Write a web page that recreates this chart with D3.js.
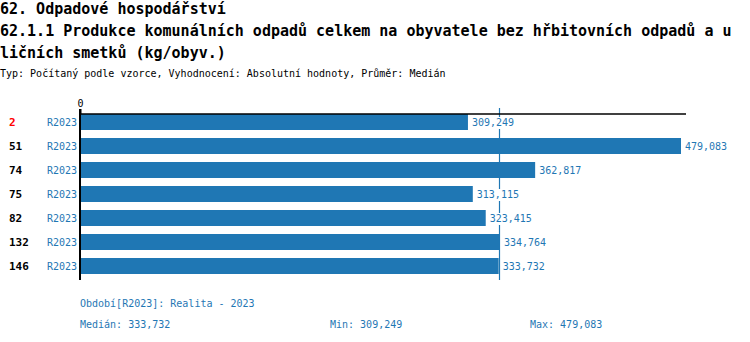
<!DOCTYPE html>
<html>
<head>
<meta charset="utf-8">
<script src="https://cdn.jsdelivr.net/npm/d3@7"></script>
<style>
  html, body { margin: 0; padding: 0; background: #fff; }
  svg { display: block; }
  text { font-family: "DejaVu Sans Mono", "Liberation Mono", monospace; }
</style>
</head>
<body>
<script>
// Municipal waste per inhabitant, 2023 (kg/inhabitant)
const rowIds   = ["2", "51", "74", "75", "82", "132", "146"];
const periods  = ["R2023", "R2023", "R2023", "R2023", "R2023", "R2023", "R2023"];
const values   = [309.249, 479.083, 362.817, 313.115, 323.415, 334.764, 333.732];
const highlightId = "2";
const medianValue = 333.732;
const minValue = 309.249;
const maxValue = 479.083;

const titleLines = [
  "62. Odpadové hospodářství",
  "62.1.1 Produkce komunálních odpadů celkem na obyvatele bez hřbitovních odpadů a u",
  "ličních smetků (kg/obyv.)"
];
const subtitle = "Typ: Počítaný podle vzorce, Vyhodnocení: Absolutní hodnoty, Průměr: Medián";
const periodNote = "Období[R2023]: Realita - 2023";

const W = 750, H = 342;
const blue = "#1f77b4";
const fmt = v => d3.format(".3f")(v).replace(".", ",");

const svg = d3.select("body").append("svg").attr("width", W).attr("height", H);

// Titles
svg.selectAll("text.title").data(titleLines).join("text")
  .attr("class", "title")
  .attr("x", 0).attr("y", (d, i) => 14 + i * 22)
  .attr("font-size", 15).attr("font-weight", "bold").attr("fill", "#000")
  .text(d => d);

svg.append("text")
  .attr("x", 0).attr("y", 77)
  .attr("font-size", 10).attr("fill", "#000")
  .text(subtitle);

// Scales
const x = d3.scaleLinear().domain([0, maxValue]).range([80, 681]);
const y = d3.scaleBand().domain(rowIds).range([110, 278]).paddingInner(1 / 3).paddingOuter(1 / 6);

// Median line (behind bars and labels)
svg.append("line")
  .attr("x1", Math.round(x(medianValue)) + 0.5).attr("x2", Math.round(x(medianValue)) + 0.5)
  .attr("y1", 108).attr("y2", 280)
  .attr("stroke", blue).attr("stroke-width", 1.2);

// Bars
svg.selectAll("rect.bar").data(values).join("rect")
  .attr("class", "bar")
  .attr("x", x(0))
  .attr("y", (d, i) => y(rowIds[i]))
  .attr("width", d => x(d) - x(0))
  .attr("height", y.bandwidth())
  .attr("fill", blue);

// Value labels with white backing
const vl = svg.selectAll("g.vlabel").data(values).join("g")
  .attr("class", "vlabel")
  .attr("transform", (d, i) => `translate(${x(d) + 4},${y(rowIds[i]) + y.bandwidth() / 2 + 4})`);
vl.append("rect")
  .attr("x", -1).attr("y", -9).attr("height", 12)
  .attr("width", d => fmt(d).length * 6.02 + 2)
  .attr("fill", "#fff");
vl.append("text")
  .attr("font-size", 10).attr("fill", blue)
  .text(d => fmt(d));

// Row ids
svg.selectAll("text.rid").data(rowIds).join("text")
  .attr("class", "rid")
  .attr("x", 9).attr("y", d => y(d) + y.bandwidth() / 2 + 4)
  .attr("font-size", 11).attr("font-weight", "bold")
  .attr("fill", d => d === highlightId ? "#ff0000" : "#000")
  .text(d => d);

// Period labels
svg.selectAll("text.per").data(periods).join("text")
  .attr("class", "per")
  .attr("x", 77).attr("y", (d, i) => y(rowIds[i]) + y.bandwidth() / 2 + 4)
  .attr("text-anchor", "end")
  .attr("font-size", 10).attr("fill", blue)
  .text(d => d);

// Axes
const axisTop = d3.axisTop(x).tickValues([0]).tickSize(5).tickFormat(d3.format("d"));
const gAx = svg.append("g").attr("transform", "translate(0,114)").call(axisTop);
gAx.select(".domain").remove();
gAx.selectAll(".tick line").attr("stroke", "#000").attr("stroke-width", 2);
gAx.selectAll(".tick text").attr("font-size", 10).attr("fill", "#000")
  .attr("font-family", "DejaVu Sans Mono, monospace").attr("dy", "0.1em");
svg.append("line")
  .attr("x1", x(0)).attr("x2", 686).attr("y1", 114).attr("y2", 114)
  .attr("stroke", "#000").attr("stroke-width", 1.5);
svg.append("line")
  .attr("x1", x(0)).attr("x2", x(0)).attr("y1", 109).attr("y2", 280)
  .attr("stroke", "#000").attr("stroke-width", 2);

// Footer
svg.append("text").attr("x", 80).attr("y", 307)
  .attr("font-size", 10).attr("fill", blue).text(periodNote);
const stats = [["Medián: ", medianValue, 80], ["Min: ", minValue, 330], ["Max: ", maxValue, 530]];
svg.selectAll("text.stat").data(stats).join("text")
  .attr("class", "stat")
  .attr("x", d => d[2]).attr("y", 328)
  .attr("font-size", 10).attr("fill", blue)
  .text(d => d[0] + fmt(d[1]));
</script>
</body>
</html>
